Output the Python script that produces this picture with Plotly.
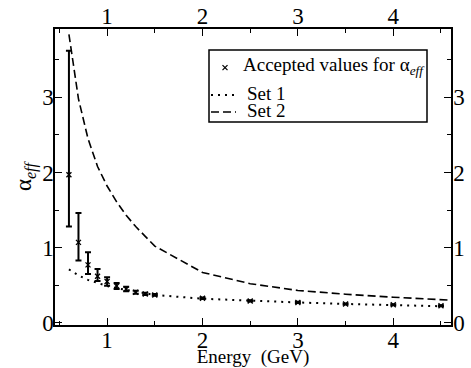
import plotly.graph_objects as go

# Accepted values (data with asymmetric error bars)
energy = [0.6, 0.7, 0.8, 0.9, 1.0, 1.1, 1.2, 1.3, 1.4, 1.5, 2.0, 2.5, 3.0, 3.5, 4.0, 4.5]
alpha = [1.97, 1.07, 0.77, 0.62, 0.55, 0.49, 0.45, 0.405, 0.383, 0.37, 0.325, 0.29, 0.27, 0.25, 0.24, 0.227]
err_plus = [1.65, 0.39, 0.17, 0.095, 0.055, 0.04, 0.03, 0.02, 0.015, 0.012, 0.01, 0.008, 0.008, 0.007, 0.007, 0.007]
err_minus = [0.69, 0.24, 0.12, 0.065, 0.057, 0.04, 0.03, 0.02, 0.015, 0.012, 0.01, 0.008, 0.008, 0.007, 0.007, 0.007]

# Model curves
set1_energy = [0.6, 0.7, 0.8, 0.9, 1.0, 1.1, 1.2, 1.3, 1.4, 1.5, 2.0, 2.5, 3.0, 3.5, 4.0, 4.5]
set1_alpha = [0.71, 0.63, 0.57, 0.525, 0.49, 0.46, 0.435, 0.41, 0.39, 0.37, 0.32, 0.29, 0.27, 0.25, 0.235, 0.22]
set2_energy = [0.6, 0.7, 0.8, 0.9, 1.0, 1.1, 1.2, 1.3, 1.4, 1.5, 2.0, 2.5, 3.0, 3.5, 4.0, 4.5, 4.6]
set2_alpha = [3.84, 2.98, 2.45, 2.08, 1.82, 1.61, 1.43, 1.28, 1.15, 1.02, 0.67, 0.52, 0.43, 0.38, 0.34, 0.305, 0.30]

x_range = [0.454, 4.605]
y_range = [-0.03, 3.91]
x_ticks = [1, 2, 3, 4]
y_ticks = [0, 1, 2, 3]

legend_labels = ["Accepted values for α<sub><i>eff</i></sub>", "Set 1", "Set 2"]

FONT = "Liberation Serif"
W, H = 471, 368
ML, MR, MT, MB = 55, 20, 29, 43
PW, PH = W - ML - MR, H - MT - MB


def px(x):
    return (x - ML) / PW


def py(y):
    return (H - MB - y) / PH


fig = go.Figure()

fig.add_trace(go.Scatter(
    x=energy, y=alpha, mode="markers", name=legend_labels[0], showlegend=False,
    marker=dict(symbol="x-thin", size=5, color="black", line=dict(color="black", width=1.3)),
    error_y=dict(type="data", symmetric=False, array=err_plus, arrayminus=err_minus,
                 color="black", thickness=2, width=3),
))
fig.add_trace(go.Scatter(
    x=set1_energy, y=set1_alpha, mode="lines", name=legend_labels[1], showlegend=False,
    line=dict(color="black", width=2, dash="2px,5px"),
))
fig.add_trace(go.Scatter(
    x=set2_energy, y=set2_alpha, mode="lines", name=legend_labels[2], showlegend=False,
    line=dict(color="black", width=1.6, dash="8px,4px"),
))
# mirror axes (top / right) carrying labels
fig.add_trace(go.Scatter(x=set2_energy, y=set2_alpha, mode="lines", xaxis="x2", yaxis="y2",
                         showlegend=False, hoverinfo="skip", line=dict(width=0, color="rgba(0,0,0,0)")))

axis_common = dict(
    showgrid=False, zeroline=False, showline=True, linecolor="black", linewidth=1.5,
    ticks="inside", ticklen=7, tickwidth=1.2, tickcolor="black", automargin=False,
    tickfont=dict(family=FONT, size=23, color="black"),
)
minor_x = dict(ticks="inside", ticklen=4, tickwidth=1.2, tickcolor="black", dtick=0.5, tick0=0)
minor_y = dict(ticks="inside", ticklen=4, tickwidth=1.2, tickcolor="black", dtick=0.5, tick0=0)

# --- hand-drawn legend box (paper coordinates) ---
shapes = [
    dict(type="rect", xref="paper", yref="paper", x0=px(209), x1=px(427), y0=py(122), y1=py(50),
         line=dict(color="black", width=1.5), fillcolor="white", layer="above"),
    # x marker
    dict(type="line", xref="paper", yref="paper", x0=px(222.5), x1=px(227.5), y0=py(65.2), y1=py(70.2),
         line=dict(color="black", width=1.2), layer="above"),
    dict(type="line", xref="paper", yref="paper", x0=px(222.5), x1=px(227.5), y0=py(70.2), y1=py(65.2),
         line=dict(color="black", width=1.2), layer="above"),
    # Set 1 dotted
    dict(type="line", xref="paper", yref="paper", x0=px(211), x1=px(236), y0=py(95), y1=py(95),
         line=dict(color="black", width=2, dash="2px,5px"), layer="above"),
    # Set 2 dashed
    dict(type="line", xref="paper", yref="paper", x0=px(211), x1=px(236), y0=py(112), y1=py(112),
         line=dict(color="black", width=1.6, dash="8px,4px"), layer="above"),
]
annotations = [
    dict(text=legend_labels[0], xref="paper", yref="paper", x=px(241), y=py(66), xanchor="left",
         yanchor="middle", showarrow=False, font=dict(family=FONT, size=19, color="black")),
    dict(text=legend_labels[1], xref="paper", yref="paper", x=px(245), y=py(93), xanchor="left",
         yanchor="middle", showarrow=False, font=dict(family=FONT, size=19, color="black")),
    dict(text=legend_labels[2], xref="paper", yref="paper", x=px(245), y=py(110), xanchor="left",
         yanchor="middle", showarrow=False, font=dict(family=FONT, size=19, color="black")),
]

fig.update_layout(
    width=W, height=H,
    margin=dict(l=ML, r=MR, t=MT, b=MB, autoexpand=False),
    paper_bgcolor="white", plot_bgcolor="white",
    font=dict(family=FONT, color="black"),
    xaxis=dict(range=x_range, tickvals=x_ticks, minor=minor_x, ticklabelstandoff=-6, **axis_common,
               title=dict(text="Energy\u00a0\u00a0(GeV)", font=dict(family=FONT, size=19), standoff=0)),
    yaxis=dict(range=y_range, tickvals=y_ticks, minor=minor_y, ticklabelstandoff=-5, **axis_common,
               title=dict(text="α<sub><i>eff</i></sub>", font=dict(family=FONT, size=23), standoff=4)),
    xaxis2=dict(range=x_range, tickvals=x_ticks, minor=minor_x, overlaying="x", side="top",
                ticklabelstandoff=-6, anchor="y", **axis_common),
    yaxis2=dict(range=y_range, tickvals=y_ticks, minor=minor_y, overlaying="y", side="right",
                ticklabelstandoff=-4, anchor="x", **axis_common),
    shapes=shapes,
    annotations=annotations,
    showlegend=False,
)

fig.write_html("out.html")
